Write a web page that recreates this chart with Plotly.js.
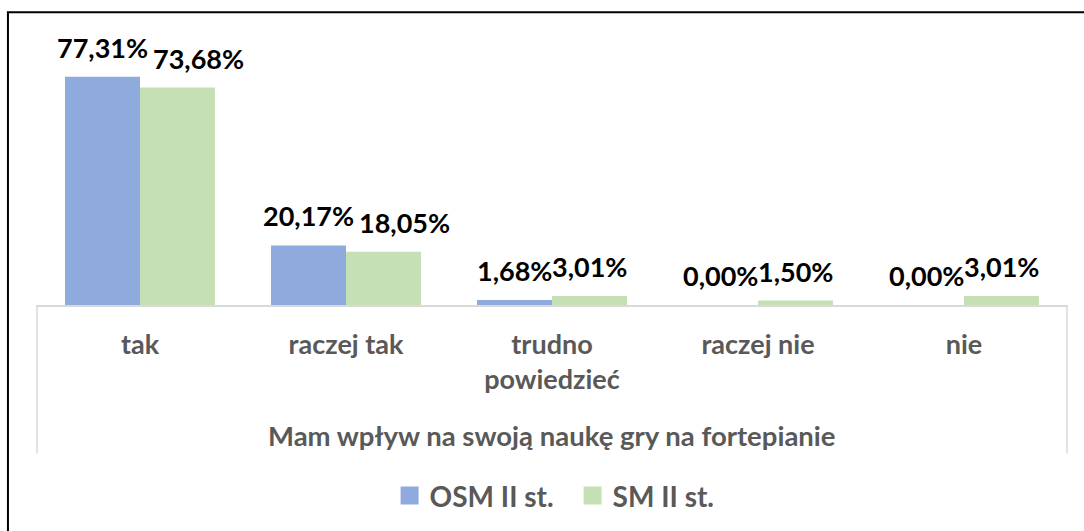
<!DOCTYPE html>
<html>
<head>
<meta charset="utf-8">
<script src="https://cdn.plot.ly/plotly-3.0.1.min.js"></script>
<style>html,body{margin:0;padding:0;background:#fff;}#chart{width:1084px;height:531px;}</style>
</head>
<body>
<div id="chart"></div>
<script>
var categories = ["tak", "raczej tak", "trudno<br>powiedzieć", "raczej nie", "nie"];
var osmValues = [77.31, 20.17, 1.68, 0.00, 0.00];
var smValues = [73.68, 18.05, 3.01, 1.50, 3.01];
var seriesNames = ["OSM II st.", "SM II st."];
var axisTitle = "Mam wpływ na swoją naukę gry na fortepianie";

var FONT = "Lato, 'Open Sans', sans-serif";
var BLUE = "#8FAADC", GREEN = "#C5E0B4", GRAY = "#595959";

function fmt(v) { return v.toFixed(2).replace(".", ",") + "%"; }

var traces = [
  {type: "bar", name: seriesNames[0], x: categories, y: osmValues, marker: {color: BLUE}, hoverinfo: "none"},
  {type: "bar", name: seriesNames[1], x: categories, y: smValues, marker: {color: GREEN}, hoverinfo: "none"}
];

// labels of the two tallest groups are nudged right in the original to avoid overlap
function labelNudge(si, i) { return (si === 1 && i < 2) ? 21 : 0; }

var annotations = [];
[osmValues, smValues].forEach(function (vals, si) {
  vals.forEach(function (v, i) {
    annotations.push({
      xref: "x", yref: "y", x: categories[i], y: v,
      xshift: (si === 0 ? -37.5 : 37.5) + labelNudge(si, i), yshift: 11,
      yanchor: "bottom", xanchor: "center", showarrow: false,
      text: "<b>" + fmt(v) + "</b>",
      font: {family: FONT, size: 27, color: "#000000"}
    });
  });
});
annotations.push({
  xref: "paper", yref: "paper", x: 0.5, y: -0.4925, xanchor: "center", yanchor: "middle",
  showarrow: false, text: "<b>" + axisTitle + "</b>",
  font: {family: FONT, size: 27.5, color: GRAY}
});

var layout = {
  width: 1084, height: 531,
  margin: {l: 37, r: 17, t: 40, b: 225},
  paper_bgcolor: "#ffffff", plot_bgcolor: "#ffffff",
  barmode: "group", bargap: 0.272, bargroupgap: 0,
  showlegend: true,
  legend: {orientation: "h", x: 0.52, xanchor: "center", y: -0.714, yanchor: "middle",
    entrywidth: 138, entrywidthmode: "pixels",
    font: {family: FONT, size: 28, color: GRAY, weight: "bold"}, itemclick: false},
  xaxis: {type: "category", showline: true, linecolor: "#D9D9D9", linewidth: 1.5,
    ticks: "", showgrid: false, zeroline: false, fixedrange: true,
    tickfont: {family: FONT, size: 27, color: GRAY, weight: "bold"}, ticklabelstandoff: 15},
  yaxis: {range: [0, 89.8], visible: false, showgrid: false, zeroline: false, fixedrange: true},
  annotations: annotations,
  shapes: [
    {type: "line", xref: "paper", yref: "paper", x0: 0, x1: 0, y0: 0, y1: -0.56, line: {color: "#D9D9D9", width: 1.5}},
    {type: "line", xref: "paper", yref: "paper", x0: 1, x1: 1, y0: 0, y1: -0.56, line: {color: "#D9D9D9", width: 1.5}},
    {type: "line", xref: "paper", yref: "paper", x0: -0.0282, x1: -0.0282, y0: 1.105, y1: -1, line: {color: "#000000", width: 2}},
    {type: "line", xref: "paper", yref: "paper", x0: -0.0292, x1: 1.05, y0: 1.105, y1: 1.105, line: {color: "#000000", width: 2}}
  ]
};

Plotly.newPlot("chart", traces, layout, {displayModeBar: false, staticPlot: true}).then(function () {
  document.querySelectorAll("#chart .legend .legendpoints path").forEach(function (p) {
    var old = p.getAttribute("transform") || "";
    p.setAttribute("transform", old + " scale(1.5)");
  });
});
</script>
</body>
</html>
